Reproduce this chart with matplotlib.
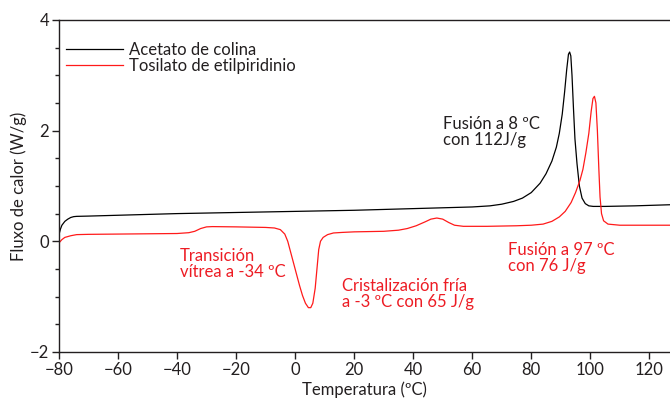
import matplotlib.pyplot as plt

plt.rcParams["font.family"] = ["Lato", "DejaVu Sans"]

# DSC curves: temperature (°C) vs heat flow (W/g)
colina_t = [-80, -79.5, -79, -78, -77, -76, -75, -74, -70, -60, -40, -20, 0, 20, 40,
            60, 66, 70, 74, 77, 80, 83, 85, 87, 88.5, 89.5, 90.5, 91.3, 92, 92.6, 93,
            93.4, 93.8, 94.3, 94.8, 95.5, 96.3, 97.2, 98.3, 99.5, 101, 105, 115, 127]
colina_q = [0.12, 0.22, 0.29, 0.36, 0.40, 0.43, 0.445, 0.45, 0.455, 0.47, 0.50, 0.52,
            0.54, 0.56, 0.59, 0.62, 0.64, 0.67, 0.72, 0.78, 0.88, 1.05, 1.22, 1.45,
            1.7, 1.95, 2.3, 2.7, 3.1, 3.38, 3.42, 3.35, 3.0, 2.4, 1.85, 1.4, 1.0,
            0.78, 0.68, 0.64, 0.63, 0.63, 0.64, 0.66]

tosilato_t = [-80, -79, -78, -76, -74, -70, -60, -50, -40, -36, -34, -32, -30, -28,
              -20, -10, -7, -5, -3.5, -2.5, -1.5, -0.5, 0.5, 1.5, 2.5, 3.5, 4.5, 5.3,
              6, 6.8, 7.4, 8, 8.6, 9.5, 11, 13, 16, 20, 30, 35, 38, 41, 44, 46, 48,
              50, 52, 54, 57, 65, 75, 80, 84, 87, 89.5, 91.5, 93.5, 95, 96.5, 97.5,
              98.5, 99.5, 100.3, 100.9, 101.4, 101.9, 102.4, 102.9, 103.3, 103.8,
              104.5, 106, 110, 127]
tosilato_q = [-0.03, 0.03, 0.07, 0.10, 0.12, 0.125, 0.13, 0.135, 0.14, 0.155, 0.18,
              0.23, 0.26, 0.265, 0.26, 0.25, 0.24, 0.21, 0.13, 0.0, -0.2, -0.4, -0.6,
              -0.8, -0.98, -1.12, -1.2, -1.2, -1.12, -0.85, -0.5, -0.15, 0.0, 0.07,
              0.12, 0.15, 0.16, 0.17, 0.18, 0.2, 0.23, 0.28, 0.35, 0.40, 0.42, 0.40,
              0.34, 0.29, 0.27, 0.27, 0.28, 0.29, 0.31, 0.36, 0.44, 0.54, 0.70, 0.88,
              1.1, 1.3, 1.6, 1.95, 2.35, 2.58, 2.62, 2.5, 2.0, 1.3, 0.8, 0.5, 0.37,
              0.31, 0.29, 0.29]

dark = "#231f20"
red_line = "#ff1a1a"
red_text = "#ed1c24"
fs = 12

fig = plt.figure(figsize=(6.7, 3.99), dpi=100)
ax = fig.add_axes([0.088, 0.118, 0.912, 0.832])

ax.plot(colina_t, colina_q, color="black", lw=0.9, label="Acetato de colina")
ax.plot(tosilato_t, tosilato_q, color=red_line, lw=0.9, label="Tosilato de etilpiridinio")

ax.set_xlim(-80, 127)
ax.set_ylim(-2, 4)
ax.set_xticks(range(-80, 121, 20))
ax.set_yticks([-2, 0, 2, 4])
ax.set_yticks([y / 2 for y in range(-4, 8)], minor=True)

for side in ["left", "bottom", "top"]:
    ax.spines[side].set_color(dark)
    ax.spines[side].set_linewidth(1.0)
ax.spines["right"].set_visible(False)

ax.tick_params(axis="both", which="major", length=5, width=1, color=dark,
               labelsize=fs, labelcolor=dark, pad=2)
ax.tick_params(axis="y", which="minor", length=3, width=1, color=dark)

ax.set_xlabel("Temperatura (ºC)", fontsize=fs, color=dark, labelpad=3)
ax.set_ylabel("Fluxo de calor (W/g)", fontsize=fs, color=dark, labelpad=2)

leg = ax.legend(loc="upper left", frameon=False, fontsize=fs, handlelength=3.4,
                handletextpad=0.4, labelspacing=0.0, borderaxespad=0.0, borderpad=0.0,
                bbox_to_anchor=(0.0115, 0.935))
for txt in leg.get_texts():
    txt.set_color(dark)

ax.text(50.2, 2.26, "Fusión a 8 ºC\ncon 112J/g", fontsize=fs, color=dark,
        va="top", ha="left", linespacing=1.0)
ax.text(-39, -0.13, "Transición\nvítrea a -34 ºC", fontsize=fs, color=red_text,
        va="top", ha="left", linespacing=1.0)
ax.text(16, -0.67, "Cristalización fría\na -3 ºC con 65 J/g", fontsize=fs,
        color=red_text, va="top", ha="left", linespacing=1.0)
ax.text(72, -0.01, "Fusión a 97 ºC\ncon 76 J/g", fontsize=fs, color=red_text,
        va="top", ha="left", linespacing=1.0)

fig.savefig("out.png", dpi=100)
